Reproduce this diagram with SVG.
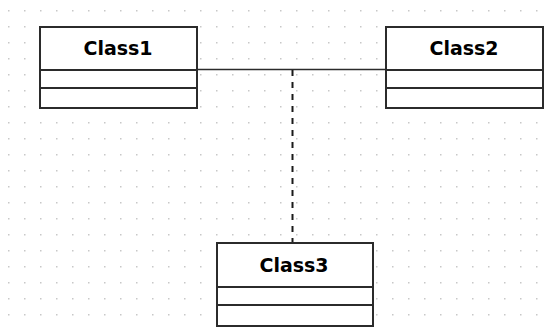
<svg xmlns="http://www.w3.org/2000/svg" width="549" height="327" viewBox="0 0 549 327">
<defs>
<pattern id="grid" x="0" y="0" width="16" height="16" patternUnits="userSpaceOnUse">
<rect x="8" y="10" width="1.5" height="1.5" fill="#c8c8c8"/>
</pattern>
<style>
.box{fill:#ffffff;stroke:#2b2b2b;stroke-width:2}
.div{stroke:#2b2b2b;stroke-width:2}
.lbl{font-family:"DejaVu Sans",Verdana,sans-serif;font-weight:bold;font-size:19px;fill:#000;text-anchor:middle}
.assoc{stroke:#2b2b2b;stroke-width:1.6;fill:none}
.dash{stroke:#1a1a1a;stroke-width:2;stroke-dasharray:6 6;fill:none}
</style>
</defs>
<rect width="549" height="327" fill="#ffffff"/>
<rect width="549" height="327" fill="url(#grid)"/>
<g id="connectors">
<line class="assoc" x1="197" y1="69.5" x2="386" y2="69.5"/>
<line class="dash" x1="292.5" y1="70" x2="292.5" y2="243"/>
</g>
<g id="class1">
<rect class="box" x="40" y="27" width="157" height="81"/>
<line class="div" x1="40" y1="70" x2="197" y2="70"/>
<line class="div" x1="40" y1="88" x2="197" y2="88"/>
<text class="lbl" x="118" y="55">Class1</text>
</g>
<g id="class2">
<rect class="box" x="386" y="27" width="157" height="81"/>
<line class="div" x1="386" y1="70" x2="543" y2="70"/>
<line class="div" x1="386" y1="88" x2="543" y2="88"/>
<text class="lbl" x="464" y="55">Class2</text>
</g>
<g id="class3">
<rect class="box" x="217" y="243" width="156" height="83"/>
<line class="div" x1="217" y1="287" x2="373" y2="287"/>
<line class="div" x1="217" y1="305" x2="373" y2="305"/>
<text class="lbl" x="294" y="272">Class3</text>
</g>
</svg>
